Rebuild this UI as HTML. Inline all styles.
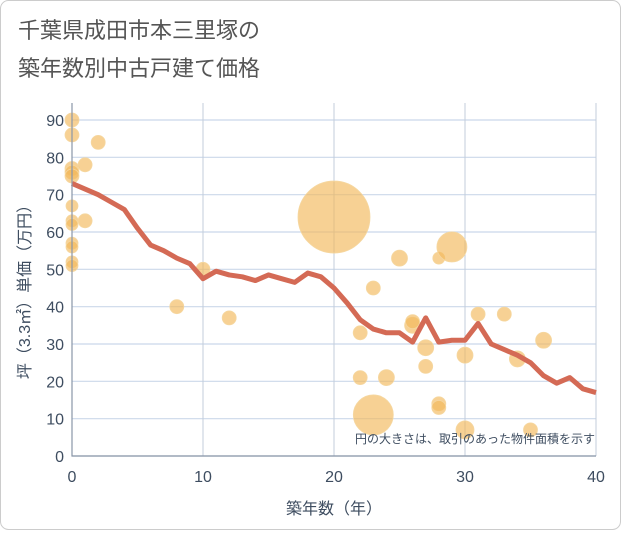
<!DOCTYPE html>
<html><head><meta charset="utf-8"><style>
body{margin:0;background:#fff;}
svg text{font-family:"Liberation Sans","Noto Sans CJK JP",sans-serif;}
</style></head><body>
<svg id="chart" width="621" height="530" viewBox="0 0 621 530">
<rect x="0.5" y="0.5" width="620" height="529" rx="8" fill="#fff" stroke="#ccc"/>
<text x="18" y="38" font-size="22" fill="#555">千葉県成田市本三里塚の</text>
<text x="18" y="76" font-size="22" fill="#555">築年数別中古戸建て価格</text>
<g id="grid"></g>
<g id="bubbles"></g>
<g id="trend"></g>
<g id="axes"></g>
<text x="595" y="443" font-size="12" fill="#3e4d60" text-anchor="end">円の大きさは、取引のあった物件面積を示す</text>
<text x="334" y="514" font-size="16" fill="#3e4d60" text-anchor="middle">築年数（年）</text>
<text transform="translate(30,288) rotate(-90)" font-size="16" fill="#3e4d60" text-anchor="middle">坪（3.3㎡）単価（万円）</text>
</svg>
<script>
const xTicks=[0,10,20,30,40];
const yTicks=[0,10,20,30,40,50,60,70,80,90];
const bubbleX=[0,0,0,0,0,0,0,0,0,0,0,0,1,1,2,8,10,12,20,22,22,23,23,24,25,26,26,27,27,28,28,28,29,30,30,31,33,34,35,36];
const bubbleY=[90,86,77,76,75,67,63,62,57,56,52,51,78,63,84,40,50,37,64,33,21,45,11,21,53,35,36,29,24,53,14,13,56,27,7,38,38,26,7,31];
const bubbleR=[7,7,7,7,7,6,6,6,6,6,6,6,7,7,7,7,7,7,36,7,7,7,20,8,8,8,7,8,7,6,7,7,15,8,9,7,7,8,7,8];
const lineX=[0,1,2,3,4,5,6,7,8,9,10,11,12,13,14,15,16,17,18,19,20,21,22,23,24,25,26,27,28,29,30,31,32,33,34,35,36,37,38,39,40];
const lineY=[73,71.5,70,68,66,61,56.5,55,53,51.5,47.5,49.5,48.5,48,47,48.5,47.5,46.5,49,48,45,41,36.5,34,33,33,30.5,37,30.5,31,31,35.5,30,28.5,27,25,21.5,19.5,21,18,17];
const X0=72,X1=596,Y0=456,Y1=120;
const xs=v=>X0+(v-0)/40*(X1-X0);
const ys=v=>Y0-(v-0)/90*(Y0-Y1);
const NS='http://www.w3.org/2000/svg';
function mk(t,a,p){const e=document.createElementNS(NS,t);for(const k in a)e.setAttribute(k,a[k]);p.appendChild(e);return e;}
const grid=document.getElementById('grid'),axes=document.getElementById('axes');
const bg=mk('rect',{x:X0,y:103,width:X1-X0,height:Y0-103,fill:'#fff'},grid);


yTicks.forEach(v=>{
 const l=mk('line',{x1:X0,x2:X1,y1:ys(v),y2:ys(v),stroke:'#cbd8ea','stroke-width':1.2},grid);
 
 
 const t=mk('text',{x:X0-8,y:ys(v)+6,'font-size':16,fill:'#3e4d60','text-anchor':'end'},axes);
 t.textContent=v;
 
 
});
xTicks.forEach(v=>{
 const l=mk('line',{x1:xs(v),x2:xs(v),y1:103,y2:Y0,stroke:'#c3cddb','stroke-width':1},grid);
 
 
 const t=mk('text',{x:xs(v),y:Y0+26,'font-size':16,fill:'#3e4d60','text-anchor':'middle'},axes);
 t.textContent=v;
 
 
});
const ax=mk('path',{d:`M${X0} 103V${Y0}H${X1}`,fill:'none',stroke:'#8a96a8','stroke-width':1.2},axes);


const bub=document.getElementById('bubbles');
bubbleX.forEach((v,i)=>{
 const c=mk('circle',{cx:xs(v),cy:ys(bubbleY[i]),r:bubbleR[i],fill:'#f2b85a','fill-opacity':0.65,stroke:'#f5d7a0','stroke-width':0.8},bub);
 
 
});
const tr=document.getElementById('trend');
const p=mk('polyline',{points:lineX.map((v,i)=>xs(v)+','+ys(lineY[i])).join(' '),fill:'none',stroke:'#d46a55','stroke-width':5,'stroke-linejoin':'round'},tr);


</script>
</body></html>
